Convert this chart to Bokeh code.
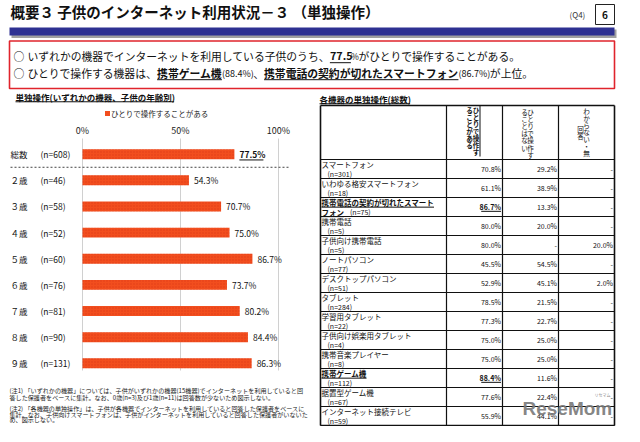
from bokeh.plotting import figure
from bokeh.models import Range1d, ColumnDataSource
from bokeh.core.properties import value
from bokeh.embed import file_html
from bokeh.resources import INLINE

# ---------------- data ----------------
title_text = "概要３ 子供のインターネット利用状況－３ （単独操作）"
age_labels = ["総数", "２歳", "３歳", "４歳", "５歳", "６歳", "７歳", "８歳", "９歳"]
age_n = ["(n=608)", "(n=46)", "(n=58)", "(n=52)", "(n=60)", "(n=76)", "(n=81)", "(n=90)", "(n=131)"]
age_values = [77.5, 54.3, 70.7, 75.0, 86.7, 73.7, 80.2, 84.4, 86.3]
pct_ticks = [0, 50, 100]
tick_labels = ["0%", "50%", "100%"]
legend_label = "ひとりで操作することがある"

device_names = ["スマートフォン", "いわゆる格安スマートフォン", "携帯電話の契約が切れたスマートフォン",
                "携帯電話", "子供向け携帯電話", "ノートパソコン", "デスクトップパソコン", "タブレット",
                "学習用タブレット", "子供向け娯楽用タブレット", "携帯音楽プレイヤー", "携帯ゲーム機",
                "据置型ゲーム機", "インターネット接続テレビ"]
device_n = ["(n=301)", "(n=18)", "(n=75)", "(n=5)", "(n=5)", "(n=77)", "(n=51)", "(n=284)",
            "(n=22)", "(n=4)", "(n=8)", "(n=112)", "(n=67)", "(n=59)"]
alone_yes = [70.8, 61.1, 86.7, 80.0, 80.0, 45.5, 52.9, 78.5, 77.3, 75.0, 75.0, 88.4, 77.6, 55.9]
alone_no = [29.2, 38.9, 13.3, 20.0, None, 54.5, 45.1, 21.5, 22.7, 25.0, 25.0, 11.6, 22.4, 44.1]
unknown = [None, None, None, None, 20.0, None, 2.0, None, None, None, None, None, None, None]
col_headers = [["ひとりで操作す", "ることがある"], ["ひとりで操作す", "ることはない"], ["わからない・無", "回答"]]

notes = [
    ["(注1) 「いずれかの機器」については、子供がいずれかの機器(15機器)でインターネットを利用していると回",
     "答した保護者をベースに集計。なお、0歳(n=3)及び1歳(n=11)は回答数が少ないため図示しない。"],
    ["(注2) 「各機器の単独操作」は、子供が各機器でインターネットを利用していると回答した保護者をベースに",
     "集計。なお、子供向けスマートフォンは、子供がインターネットを利用していると回答した保護者がいないた",
     "め、図示しない。"],
]

# ---------------- layout constants ----------------
FONT = "Noto Sans CJK JP"
RED = "#F24E1E"
X0, W100 = 90.0, 196.0          # bar chart: 0% position and width of 100%
ROW0, RSTEP = 161.7, 26.14       # bar chart rows
TROW0, TSTEP = 176.5, 19.0       # table rows
TX = [328, 454, 510, 566, 622]   # table column edges
TTOP = 113

p = figure(width=624, height=426, x_range=Range1d(8, 632), y_range=Range1d(434, 8),
           output_backend="svg", toolbar_location=None, min_border=0,
           x_axis_location=None, y_axis_location=None)
p.grid.visible = False
p.outline_line_color = None
p.background_fill_color = "white"

p.extra_x_ranges = {"pct": Range1d((8 - X0) / W100 * 100, (632 - X0) / W100 * 100)}
p.extra_y_ranges = {"rows": Range1d((434 - ROW0) / RSTEP, (8 - ROW0) / RSTEP),
                    "trow": Range1d((434 - TROW0) / TSTEP, (8 - TROW0) / TSTEP)}


def tw(s, size):
    w = 0.0
    for c in s:
        o = ord(c)
        if o >= 0x2E80 or 0x25A0 <= o <= 0x25FF:
            w += 1.0
        elif c.isdigit():
            w += 0.555
        elif c in ".,":
            w += 0.28
        elif c == "%":
            w += 0.88
        elif c in "()":
            w += 0.33
        elif c == " ":
            w += 0.23
        else:
            w += 0.56
    return w * size


def txt(x, y, s, size, bold=False, color="#111111", align="left", underline=False, **kw):
    p.text(x=[x], y=[y], text=[s], text_font=value(FONT), text_font_size=f"{size}px",
           text_font_style="bold" if bold else "normal", text_color=color,
           text_align=align, text_baseline="middle", **kw)
    w = tw(s, size)
    if underline:
        x0 = x if align == "left" else (x - w if align == "right" else x - w / 2)
        p.segment(x0=[x0], y0=[y + size * 0.62], x1=[x0 + w], y1=[y + size * 0.62],
                  line_color=color, line_width=1)
    return x + w


def line_segments(x, y, parts):
    for s, size, bold, ul in parts:
        x = txt(x, y, s, size, bold=bold, underline=ul)


# ---------------- header ----------------
txt(18, 19, title_text, 14.5, bold=True)
txt(577, 22, "(Q4)", 8, color="#333333")
p.quad(left=[603], right=[622], top=[12], bottom=[32], fill_color="white", line_color="#222222", line_width=1)
txt(612.5, 22, "6", 10, bold=True, align="center")
p.quad(left=[19], right=[624], top=[37], bottom=[45.5], fill_color="#A0A0A0", line_color=None)
p.quad(left=[17], right=[622], top=[35], bottom=[43], fill_color="#2E3192", line_color=None)
p.quad(left=[17], right=[622], top=[48.5], bottom=[96], fill_color="white", line_color="#E0242C", line_width=1.6)

FS = 10.8
txt(21, 63.5, "○", FS)
line_segments(35, 63.5, [
    ("いずれかの機器でインターネットを利用している子供のうち、", FS, False, False),
    (f"{age_values[0]:.1f}", FS, True, True),
    ("%", 8.5, False, False),
    ("がひとりで操作することがある。", FS, False, False)])
top2 = sorted(range(len(alone_yes)), key=lambda i: -alone_yes[i])[:2]
txt(21, 80.5, "○", FS)
line_segments(35, 80.5, [
    ("ひとりで操作する機器は、", FS, False, False),
    (device_names[top2[0]], FS, True, True),
    (f"({alone_yes[top2[0]]:.1f}%)", 9, False, False),
    ("、", FS, False, False),
    (device_names[top2[1]], FS, True, True),
    (f"({alone_yes[top2[1]]:.1f}%)", 9, False, False),
    ("が上位。", FS, False, False)])

# ---------------- left: bar chart ----------------
txt(23, 104, "単独操作(いずれかの機器、子供の年齢別)", 8.5, bold=True, underline=True)
p.scatter(x=[115], y=[121], marker="square", size=5, fill_color=RED, line_color=None)
txt(118.5, 121, legend_label, 7.5, color="#222222")

p.segment(x0=pct_ticks, x1=pct_ticks, y0=[146] * 3, y1=[378] * 3, x_range_name="pct",
          line_color="#D0D0D0", line_width=1)
p.text(x=pct_ticks, y=[138] * 3, text=tick_labels, x_range_name="pct", text_font=value(FONT),
       text_font_size="9px", text_align="center", text_baseline="middle", text_color="#222222")

rows = list(range(len(age_values)))
src = ColumnDataSource(dict(row=rows, val=age_values, lab=age_labels, n=age_n,
                            vlab=[f"{v:.1f}%" for v in age_values]))
p.hbar(y="row", left=0, right="val", height=0.38, source=src, x_range_name="pct",
       y_range_name="rows", fill_color=RED, line_color=None,
       hatch_pattern="dot", hatch_color="#C92A14", hatch_scale=3, hatch_weight=1, hatch_alpha=0.5)
p.text(x=18, y="row", text="lab", source=src, y_range_name="rows", text_font=value(FONT),
       text_font_size="8.5px", text_baseline="middle", text_color="#111111")
p.text(x=48, y="row", text="n", source=src, y_range_name="rows", text_font=value(FONT),
       text_font_size="8.5px", text_baseline="middle", text_color="#111111")
rest = ColumnDataSource(dict(row=rows[1:], val=age_values[1:], vlab=[f"{v:.1f}%" for v in age_values[1:]]))
p.text(x="val", y="row", text="vlab", source=rest, x_range_name="pct", y_range_name="rows",
       x_offset=5, text_font=value(FONT), text_font_size="8.5px", text_baseline="middle",
       text_color="#111111")
tot = ColumnDataSource(dict(row=rows[:1], val=age_values[:1], vlab=[f"{age_values[0]:.1f}%"]))
p.text(x="val", y="row", text="vlab", source=tot, x_range_name="pct", y_range_name="rows",
       x_offset=5, text_font=value(FONT), text_font_size="8.5px", text_font_style="bold",
       text_baseline="middle", text_color="#111111")
ux = X0 + age_values[0] / 100 * W100 + 5
p.segment(x0=[ux], x1=[ux + tw(f"{age_values[0]:.1f}%", 8.5)], y0=[0.22], y1=[0.22],
          y_range_name="rows", line_color="#111111", line_width=1)
p.segment(x0=[18], x1=[297], y0=[0.5], y1=[0.5], y_range_name="rows",
          line_color="#444444", line_width=1, line_dash="2 2")

note_y = [[398.3, 405], [416, 421.7, 427]]
for lines, ys in zip(notes, note_y):
    for s, yy in zip(lines, ys):
        txt(17, yy, s, 6.1, color="#222222")

# ---------------- right: table ----------------
txt(327, 106, "各機器の単独操作(総数)", 8.5, bold=True, underline=True)
nrow = len(device_names)
hdr_top = -0.5 - (TROW0 - 9.5 - TTOP) / TSTEP
p.segment(x0=[TX[0]] * (nrow + 1), x1=[TX[-1]] * (nrow + 1), y0=[i - 0.5 for i in range(nrow + 1)],
          y1=[i - 0.5 for i in range(nrow + 1)], y_range_name="trow", line_color="#111111", line_width=1)
p.segment(x0=TX, x1=TX, y0=[hdr_top] * len(TX), y1=[nrow - 0.5] * len(TX), y_range_name="trow",
          line_color="#111111", line_width=[1.6, 1.2, 1.2, 1.2, 1.6])
p.segment(x0=[TX[0]], x1=[TX[-1]], y0=[hdr_top], y1=[hdr_top], y_range_name="trow",
          line_color="#111111", line_width=1.6)
p.segment(x0=[TX[0]], x1=[TX[-1]], y0=[nrow - 0.5], y1=[nrow - 0.5], y_range_name="trow",
          line_color="#111111", line_width=1.6)

# vertical header texts
hdr_cols = [(483.5, 477.0, 117.0, True), (538.0, 532.0, 119.5, False), (594.0, 588.0, 118.0, False)]
for (xr, xl, y0, bold), (c1, c2) in zip(hdr_cols, col_headers):
    for k, ch in enumerate(c1):
        txt(xr, y0 + 7.1 * k, ch, 6.6, bold=bold, align="center")
    y2 = y0 if len(c2) > 3 else y0 + 18
    for k, ch in enumerate(c2):
        txt(xl, y2 + 7.1 * k, ch, 6.6, bold=bold, align="center")
p.segment(x0=[487.5], x1=[487.5], y0=[113.5], y1=[164], line_color="#111111", line_width=1)

for i, (name, n) in enumerate(zip(device_names, device_n)):
    yc = TROW0 + TSTEP * i
    bold = i in top2
    if len(name) > 15:
        txt(329, yc - 4.5, name[:15], 7.5, bold=bold, underline=bold)
        xe = txt(329, yc + 5, name[15:], 7.5, bold=bold, underline=bold)
        txt(xe + 6, yc + 5, n, 7.0)
    else:
        txt(329, yc - 4.5, name, 7.5, bold=bold, underline=bold)
        txt(335, yc + 5, n, 7.0)

fmt = lambda v: "-" if v is None else f"{v:.1f}%"
for i in range(nrow):
    yc = TROW0 + TSTEP * i
    bold = i in top2
    txt(TX[2] - 1.5, yc, fmt(alone_yes[i]), 7.0, bold=bold, underline=bold, align="right")
    txt(TX[3] - 1.5, yc, fmt(alone_no[i]), 7.0, align="right")
    txt(TX[4] - 1.5, yc, fmt(unknown[i]), 7.0, align="right")

# watermark
p.text(x=[530], y=[416], text=["ReseMom"], text_font=value("Liberation Sans"), text_font_size="19px",
       text_font_style="bold", text_color="#7A7A7A", text_alpha=0.92, text_baseline="middle")
p.text(x=[610], y=[402], text=["リセマム"], text_font=value(FONT), text_font_size="4px",
       text_color="#888888", text_align="center", text_baseline="middle")

open("out.html", "w").write(file_html(p, INLINE))
